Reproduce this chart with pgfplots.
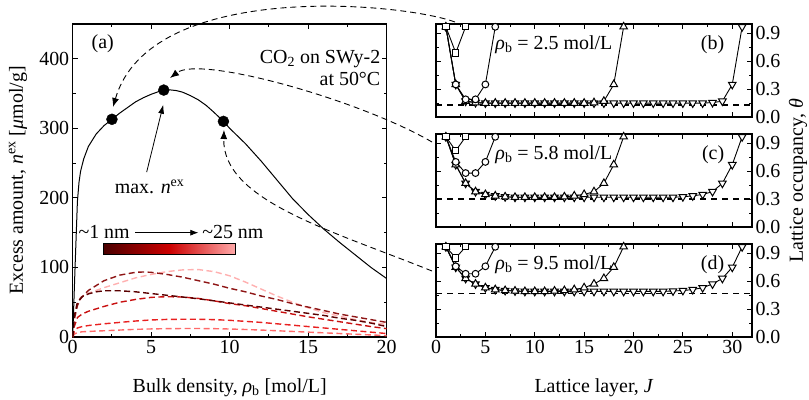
\documentclass[border=0pt]{standalone}
\usepackage{pgfplots}
\pgfplotsset{compat=1.18}
\usepackage{fontspec}
\setmainfont{Liberation Serif}
\usetikzlibrary{arrows.meta}

\definecolor{cC}{HTML}{5A0000}
\definecolor{cA}{HTML}{8E1515}
\definecolor{cD}{HTML}{C81010}
\definecolor{cE}{HTML}{E82020}
\definecolor{cF}{HTML}{FF6A6A}
\definecolor{cB}{HTML}{FFB0B0}
\definecolor{barL}{HTML}{4A0000}
\definecolor{barM}{HTML}{CC0000}
\definecolor{barR}{HTML}{FFA8A8}

\newcommand{\fs}{\fontsize{20}{24}\selectfont}

\pgfplotsset{
  common/.style={
    scale only axis,
    tick align=inside,
    axis line style={line width=1.1bp},
    every tick/.style={line width=1bp, black},
    major tick length=5bp, minor tick length=3bp,
    tick label style={font=\fs},
    /pgf/number format/assume math mode=true,
  },
  rpanel/.style={common,
    width=316bp, height=93bp, anchor=south west,
    xmin=0, xmax=32, ymin=0, ymax=1,
    xtick={0,5,...,30}, minor xtick={2.5,7.5,12.5,17.5,22.5,27.5},
    ytick={0,0.3,0.6,0.9}, minor ytick={0.15,0.45,0.75},
    ytick pos=both, yticklabel pos=right,
    yticklabel style={/pgf/number format/fixed, /pgf/number format/fixed zerofill, /pgf/number format/precision=1},
    clip=false,
  },
  ser/.style={black, line width=0.9bp, mark options={fill=white, solid, line width=1bp}},
  sq/.style={ser, mark=square*, mark size=3.2bp},
  ci/.style={ser, mark=*, mark size=3.4bp},
  tu/.style={ser, mark=triangle*, mark size=4.4bp},
  td/.style={ser, mark=triangle*, mark size=4.4bp, mark options={rotate=180, fill=white, line width=1bp}},
  bulk/.style={black, line width=1.3bp, dash pattern=on 6bp off 5bp},
  rd/.style={line width=1.4bp, dash pattern=on 6bp off 3.5bp},
}

\begin{document}
\begin{tikzpicture}[font=\fs]

% ---------------- panel (a) ----------------
\begin{axis}[common, at={(0,0)}, anchor=south west,
  width=314bp, height=313bp,
  xmin=0, xmax=20, ymin=0, ymax=450,
  xtick={0,5,...,20}, minor x tick num=1,
  ytick={0,100,...,400}, minor y tick num=1]

\addplot[rd, cB] coordinates {(0,0)(0.1,28)(0.3,48)(0.5,57)(1,63)(2,71)(3,78)(4,85)(5,90)(6,94)(7,96.5)(8,97)(9,94)(10,88)(11,79)(12,69)(13,59)(14,50)(15,42)(16,35)(17,30)(18,25)(19,21)(20,18)};
\addplot[rd, cF] coordinates {(0,0)(0.1,4)(0.3,6.5)(0.6,7.5)(1,8)(2,9)(3,10)(4,11)(5,11.6)(6,12)(7,12.2)(8,12.2)(9,12)(10,11.5)(11,10.8)(12,10)(13,9)(14,8)(15,7)(16,6)(17,5)(18,4)(19,3)(20,2)};
\addplot[rd, cE] coordinates {(0,0)(0.1,8)(0.3,13)(0.6,15)(1,16.5)(2,19)(3,21)(4,23)(5,24.5)(6,25.3)(7,25.5)(8,25.5)(9,25)(10,24)(11,22.5)(12,21)(13,19)(14,17)(15,15)(16,13)(17,11)(18,9)(19,7)(20,5)};
\addplot[rd, cD] coordinates {(0,0)(0.1,15)(0.3,28)(0.6,33)(1,37)(2,44)(3,50)(4,54)(5,57)(6,58)(7,57.5)(8,55.5)(9,52)(10,48)(11,45)(12,41)(13,37)(14,33)(15,29)(16,25.5)(17,22)(18,18.5)(19,15)(20,12)};
\addplot[rd, cA] coordinates {(0,0)(0.1,25)(0.3,45)(0.5,55)(1,67)(2,81)(3,89)(4,93)(4.5,93.5)(5,93)(6,90)(7,86)(8,81)(9,76)(10,70)(11,65)(12,59)(13,54)(14,48)(15,43)(16,38)(17,33)(18,29)(19,25)(20,21)};
\addplot[rd, cC] coordinates {(0,0)(0.1,30)(0.3,50)(0.6,58)(1,62)(1.5,65)(2,66.5)(3,66.5)(4,65)(5,62.5)(6,60)(7,57.5)(8,55)(9,52)(10,49)(11,46)(12,43)(13,40)(14,37)(15,34)(16,31)(17,27)(18,24)(19,20)(20,15)};

\addplot[black, line width=1bp] coordinates {(0,0)(0.15,100)(0.3,195)(0.4,222)(0.5,238)(0.7,256)(1,274)(1.5,292)(2,304)(2.5,313)(3,322)(3.5,330)(4,338)(4.5,344)(5,349)(5.5,353)(5.8,355)(6.2,355.3)(6.6,354.3)(7,352)(7.5,347)(8,341)(8.5,333)(9,323)(9.6,310)(10,300)(11,278)(12,253)(13,226)(14,199)(15,176)(16,155)(17,136)(18,118)(19,100)(20,84)};
\addplot[only marks, mark=*, mark size=5.5bp, black] coordinates {(2.5,313)(5.8,355)(9.6,310)};

\shade[left color=barL, right color=barR, middle color=barM] (axis cs:1.95,119) rectangle (axis cs:10.34,135);
\draw[line width=0.8bp] (axis cs:1.95,119) rectangle (axis cs:10.34,135);
\node[inner sep=0] at (axis cs:2.0,151) {\textasciitilde 1 nm};
\node[inner sep=0] at (axis cs:10.2,151) {\textasciitilde 25 nm};
\draw[line width=0.7bp, -{Latex[length=8bp,width=6bp]}] (axis cs:3.97,150) -- (axis cs:8.0,150);

\node[anchor=west, inner sep=0] at (axis cs:1.2,421) {(a)};
\node[anchor=east, inner sep=0] at (axis cs:19.6,400) {CO\textsubscript{2} on SWy-2};
\node[anchor=east, inner sep=0] at (axis cs:19.6,371) {at 50°C};
\node[inner sep=0] at (axis cs:4.9,216) {max. \textit{n}\textsuperscript{ex}};
\draw[line width=0.8bp, -{Latex[length=9bp,width=6bp]}] (axis cs:4.71,237) -- (axis cs:5.77,334);
\end{axis}

% ---------------- panel (b) ----------------
\begin{axis}[rpanel, at={(363.3bp,220bp)}, xticklabels={}]
\addplot[bulk] coordinates {(0,0.13)(32,0.13)};
\addplot[td] coordinates {(1,0.97)(2,0.35)(3,0.17)(4,0.155)(5,0.15)(6,0.15)(7,0.15)(8,0.15)(9,0.15)(10,0.15)(11,0.15)(12,0.15)(13,0.15)(14,0.15)(15,0.15)(16,0.15)(17,0.15)(18,0.15)(19,0.15)(20,0.15)(21,0.15)(22,0.15)(23,0.15)(24,0.15)(25,0.15)(26,0.15)(27,0.15)(28,0.155)(29,0.17)(30,0.35)(31,0.97)};
\addplot[tu] coordinates {(1,0.97)(2,0.35)(3,0.17)(4,0.155)(5,0.15)(6,0.15)(7,0.15)(8,0.15)(9,0.15)(10,0.15)(11,0.15)(12,0.15)(13,0.15)(14,0.15)(15,0.15)(16,0.155)(17,0.17)(18,0.35)(19,0.97)};
\addplot[ci] coordinates {(1,0.97)(2,0.35)(3,0.19)(4,0.19)(5,0.35)(6,0.97)};
\addplot[sq] coordinates {(1,0.97)(2,0.69)(3,0.97)};
\node[anchor=west, inner sep=0] at (axis cs:6.0,0.78) {\textit{ρ}\textsubscript{b} = 2.5 mol/L};
\node[anchor=east, inner sep=0] at (axis cs:29.2,0.78) {(b)};
\end{axis}

% ---------------- panel (c) ----------------
\begin{axis}[rpanel, at={(363.3bp,110bp)}, xticklabels={}]
\addplot[bulk] coordinates {(0,0.30)(32,0.30)};
\addplot[td] coordinates {(1,0.97)(2,0.67)(3,0.47)(4,0.38)(5,0.35)(6,0.335)(7,0.325)(8,0.32)(9,0.32)(10,0.32)(11,0.32)(12,0.32)(13,0.32)(14,0.32)(15,0.32)(16,0.32)(17,0.32)(18,0.32)(19,0.32)(20,0.32)(21,0.32)(22,0.32)(23,0.32)(24,0.32)(25,0.325)(26,0.335)(27,0.35)(28,0.38)(29,0.47)(30,0.67)(31,0.97)};
\addplot[tu] coordinates {(1,0.97)(2,0.67)(3,0.47)(4,0.38)(5,0.35)(6,0.335)(7,0.325)(8,0.32)(9,0.32)(10,0.32)(11,0.32)(12,0.32)(13,0.325)(14,0.335)(15,0.35)(16,0.38)(17,0.47)(18,0.67)(19,0.97)};
\addplot[ci] coordinates {(1,0.97)(2,0.70)(3,0.58)(4,0.58)(5,0.70)(6,0.97)};
\addplot[sq] coordinates {(1,0.97)(2,0.82)(3,0.97)};
\node[anchor=west, inner sep=0] at (axis cs:6.0,0.78) {\textit{ρ}\textsubscript{b} = 5.8 mol/L};
\node[anchor=east, inner sep=0] at (axis cs:29.2,0.78) {(c)};
\end{axis}

% ---------------- panel (d) ----------------
\begin{axis}[rpanel, at={(363.3bp,0bp)}]
\addplot[bulk] coordinates {(0,0.465)(32,0.465)};
\addplot[td] coordinates {(1,0.97)(2,0.75)(3,0.63)(4,0.57)(5,0.53)(6,0.51)(7,0.50)(8,0.495)(9,0.49)(10,0.49)(11,0.49)(12,0.49)(13,0.49)(14,0.49)(15,0.49)(16,0.49)(17,0.49)(18,0.49)(19,0.49)(20,0.49)(21,0.49)(22,0.49)(23,0.49)(24,0.495)(25,0.50)(26,0.51)(27,0.53)(28,0.57)(29,0.63)(30,0.75)(31,0.97)};
\addplot[tu] coordinates {(1,0.97)(2,0.75)(3,0.63)(4,0.57)(5,0.53)(6,0.51)(7,0.50)(8,0.495)(9,0.49)(10,0.49)(11,0.49)(12,0.495)(13,0.50)(14,0.51)(15,0.53)(16,0.57)(17,0.63)(18,0.75)(19,0.97)};
\addplot[ci] coordinates {(1,0.97)(2,0.76)(3,0.68)(4,0.68)(5,0.76)(6,0.97)};
\addplot[sq] coordinates {(1,0.97)(2,0.85)(3,0.97)};
\node[anchor=west, inner sep=0] at (axis cs:6.0,0.78) {\textit{ρ}\textsubscript{b} = 9.5 mol/L};
\node[anchor=east, inner sep=0] at (axis cs:29.2,0.78) {(d)};
\end{axis}

% ---------------- annotations in image coordinates ----------------
\begin{scope}[x=1bp, y=-1bp, shift={(-72.7bp,337bp)}]
\path[use as bounding box] (0,0) rectangle (809,399);
\draw[line width=0.9bp, dash pattern=on 6bp off 4bp, -{Latex[length=9bp,width=7bp]}]
  (455,22) .. controls (400,2) and (150,-20) .. (113,107);
\draw[line width=0.9bp, dash pattern=on 6bp off 4bp, -{Latex[length=9bp,width=7bp]}]
  (432,142) .. controls (360,100) and (200,55) .. (170,78);
\draw[line width=0.9bp, dash pattern=on 6bp off 4bp, -{Latex[length=9bp,width=7bp]}]
  (432,271) .. controls (330,230) and (222,200) .. (224,130);
\node[rotate=90] at (18,180.5) {Excess amount, \textit{n}\textsuperscript{ex} [\textit{μ}mol/g]};
\node at (229.7,387.5) {Bulk density, \textit{ρ}\textsubscript{b} [mol/L]};
\node at (594,387.5) {Lattice layer, \textit{J}};
\node[rotate=90] at (798,181) {Lattice occupancy, \textit{θ}};
\end{scope}
\end{tikzpicture}
\end{document}
